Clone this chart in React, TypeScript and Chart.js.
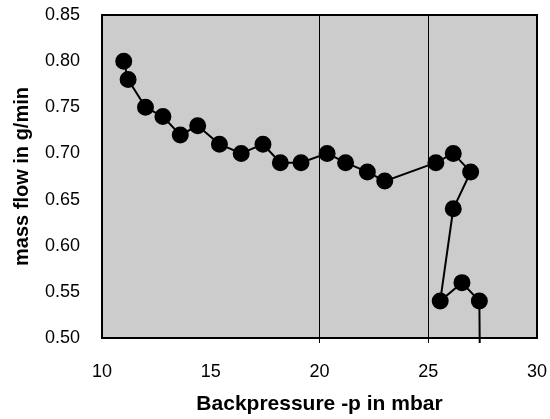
import React, { useEffect, useRef } from "react";
import { Chart, registerables } from "chart.js";

Chart.register(...registerables);

const backpressure = [11.0, 11.2, 12.0, 12.8, 13.6, 14.4, 15.4, 16.4, 17.4, 18.2, 19.15, 20.35, 21.2, 22.2, 23.0, 25.35, 26.15, 26.95, 26.15, 25.55, 26.55, 27.35, 27.4];
const massFlow = [0.8, 0.78, 0.75, 0.74, 0.72, 0.73, 0.71, 0.7, 0.71, 0.69, 0.69, 0.7, 0.69, 0.68, 0.67, 0.69, 0.7, 0.68, 0.64, 0.54, 0.56, 0.54, 0.4];
const markedLines = [20, 25];
const xTitle = "Backpressure -p in mbar";
const yTitle = "mass flow in g/min";

const FONT = "'Liberation Sans', Arial, sans-serif";

const plotFrame = {
  id: "plotFrame",
  beforeDraw(chart: any) {
    const { ctx, chartArea: a } = chart;
    ctx.save();
    ctx.fillStyle = "#cccccc";
    ctx.fillRect(a.left, a.top, a.right - a.left, a.bottom - a.top);
    ctx.restore();
  },
  afterDatasetsDraw(chart: any) {
    const { ctx, chartArea: a } = chart;
    ctx.save();
    ctx.strokeStyle = "#000";
    ctx.lineWidth = 2;
    ctx.strokeRect(a.left, a.top, a.right - a.left, a.bottom - a.top);
    ctx.restore();
  },
};

export default function App() {
  const ref = useRef<HTMLCanvasElement>(null);
  useEffect(() => {
    if (!ref.current) return;
    const pts = backpressure.map((x, i) => ({ x, y: massFlow[i] }));
    const chart = new Chart(ref.current, {
      type: "scatter",
      data: {
        datasets: [
          {
            data: pts,
            showLine: true,
            borderColor: "#000",
            borderWidth: 2,
            backgroundColor: "#000",
            pointBackgroundColor: "#000",
            pointBorderColor: "#000",
            pointRadius: pts.map((p) => (p.y < 0.5 ? 0 : 7.5)),
            pointHoverRadius: 7.5,
            clip: { left: 10, top: 10, right: 10, bottom: 5 } as any,
          },
        ],
      },
      options: {
        responsive: false,
        animation: false,
        events: [],
        layout: { padding: { left: 0, top: 15, right: 13, bottom: 0 } },
        plugins: { legend: { display: false }, tooltip: { enabled: false } },
        scales: {
          x: {
            type: "linear",
            min: 10,
            max: 30,
            afterFit: (s: any) => {
              s.height = 81;
              s.paddingLeft = 0;
              s.paddingRight = 0;
            },
            border: { display: false },
            grid: {
              color: (c: any) => (markedLines.includes(c.tick?.value) ? "#000" : "rgba(0,0,0,0)"),
              lineWidth: 1,
              tickLength: 5,
              drawTicks: true,
            },
            ticks: {
              stepSize: 5,
              color: "#000",
              padding: 18,
              font: { family: FONT, size: 18 },
            },
            title: {
              display: true,
              text: xTitle,
              color: "#000",
              font: { family: FONT, size: 21, weight: "bold" },
              padding: { top: 0, bottom: 2 },
            },
          },
          y: {
            type: "linear",
            min: 0.5,
            max: 0.85,
            afterFit: (s: any) => {
              s.width = 102;
              s.paddingTop = 0;
              s.paddingBottom = 0;
            },
            border: { display: false },
            grid: { display: false, drawTicks: false },
            ticks: {
              stepSize: 0.05,
              color: "#000",
              padding: 22,
              font: { family: FONT, size: 18 },
              callback: (v: any) => Number(v).toFixed(2),
            },
            title: {
              display: true,
              text: yTitle,
              color: "#000",
              font: { family: FONT, size: 20, weight: "bold" },
              padding: { top: 10, bottom: 0 },
            },
          },
        },
      },
      plugins: [plotFrame],
    });
    return () => chart.destroy();
  }, []);
  return (
    <div style={{ position: "absolute", left: 0, top: 0, width: 550, height: 419, background: "#fff" }}>
      <canvas ref={ref} width={550} height={419} />
    </div>
  );
}
